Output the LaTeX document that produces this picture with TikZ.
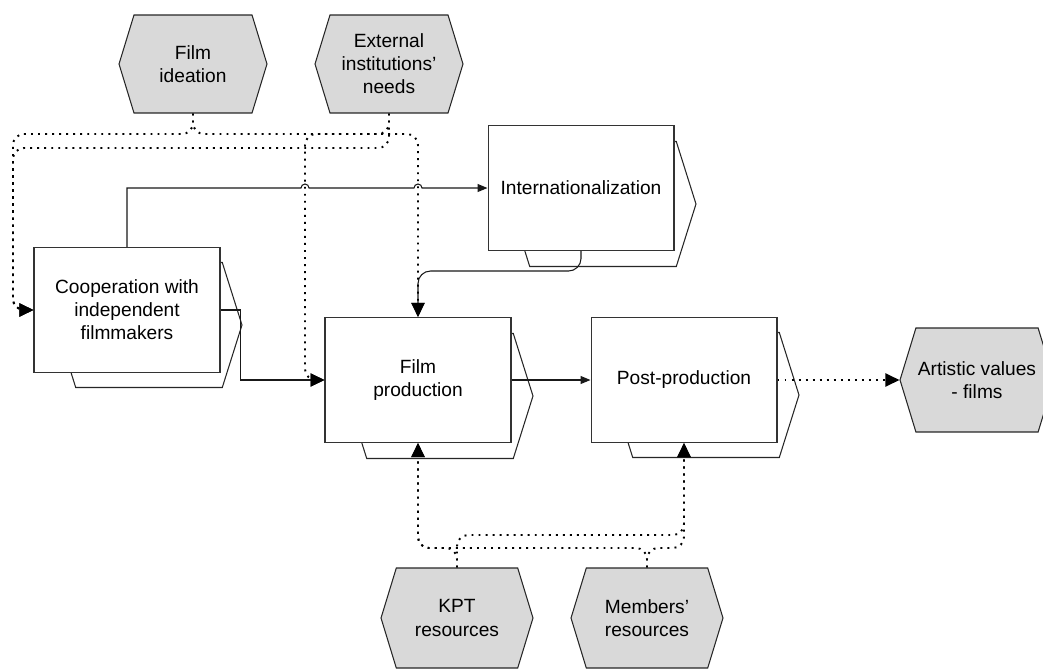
\documentclass[tikz,border=0pt]{standalone}
\usepackage{fontspec}
\setmainfont{Liberation Sans}
\usetikzlibrary{arrows.meta,shapes.symbols}

\begin{document}
\begin{tikzpicture}[x=0.02cm,y=-0.02cm,
		every node/.style={font=\fontsize{10.9}{13.1}\selectfont, align=center},
		event/.style={signal, signal to=east and west, signal pointer angle=146, draw=black!85, fill=black!15, line width=0.6pt, minimum width=2.96cm, minimum height=1.96cm, inner sep=0pt},
		func/.style={rectangle, draw=black!80, fill=white, line width=0.6pt, minimum width=3.72cm, minimum height=2.5cm},
		funcbk/.style={signal, signal to=east and west, signal pointer angle=145, draw=black!85, fill=white, line width=0.6pt, minimum width=3.72cm, minimum height=2.5cm, inner sep=0pt},
		flow/.style={draw=black!90, line width=0.6pt, -{Triangle[length=0.2cm,width=0.16cm]}},
		bigflow/.style={draw=black!90, line width=0.6pt, -{Triangle[length=0.28cm,width=0.26cm]}},
		info/.style={line width=1.1pt, dash pattern=on 1.1pt off 2.9pt, rounded corners=0.22cm, -{Triangle[length=0.28cm,width=0.26cm]}}]
		\useasboundingbox (0,0) rectangle (1043,669);
		
		% functions
		\node[funcbk] (coopbk) at (149,325) {};
		\node[func] (coop) at (127,310) {Cooperation with\\independent\\filmmakers};
		\node[funcbk] (intlbk) at (603,204) {};
		\node[func] (intl) at (581,188) {Internationalization};
		\node[funcbk] (fpbk) at (440,396) {};
		\node[func] (fp) at (418,380) {Film\\production};
		\node[funcbk] (ppbk) at (706,395) {};
		\node[func] (pp) at (684,380) {Post-production};
		
		% events
		\node[event] (fi) at (193,64) {Film\\ideation};
		\node[event] (ext) at (389,64) {External\\institutions’\\needs};
		\node[event, minimum width=3.08cm, minimum height=2.08cm] (art) at (977,380) {Artistic values\\- films};
		\node[event, minimum width=3.04cm, minimum height=2cm] (kpt) at (457,618) {KPT\\resources};
		\node[event, minimum width=3.04cm, minimum height=2cm] (mem) at (647,618) {Members’\\resources};
		
		\coordinate (topA) at (0,134);
		\coordinate (topB) at (0,148);
		\coordinate (lx) at (13,0);
		\coordinate (jx) at (305,0);
		\coordinate (botA) at (0,535);
		\coordinate (botB) at (0,548);
		
		% control flow
		\draw[flow] (coop.north) |- ([xshift=-0.08cm]jx |- intl.west) arc[start angle=180,end angle=0,radius=0.08cm]
			-- ([xshift=-0.08cm]fp.north |- intl.west) arc[start angle=180,end angle=0,radius=0.08cm] -- (intl.west);
		\draw[bigflow, rounded corners=0.25cm] (intl.south) -- ++(0,20) -| (fp.north);
		\draw[bigflow] (coop.east) -- ++(20,0) |- (fp.west);
		\draw[flow] (fp.east) -- (pp.west);
		\draw[info] (pp.east) -- (art.west);
		
		% information inputs
		\draw[info] (fi.south) |- (lx |- topA) |- (coop.west);
		\draw[info] (ext.south) |- (lx |- topB) |- (coop.west);
		\draw[info] (fi.south) |- (fp.north |- topA) -- (fp.north);
		\draw[info] (ext.south) |- (jx |- topA) |- (fp.west);
		\draw[info] (kpt.north) |- (fp.south |- botB) -- (fp.south);
		\draw[info] (mem.north) |- (fp.south |- botB) -- (fp.south);
		\draw[info] (kpt.north) |- (pp.south |- botA) -- (pp.south);
		\draw[info] (mem.north) |- (pp.south |- botB) -- (pp.south);
	\end{tikzpicture}
\end{document}
